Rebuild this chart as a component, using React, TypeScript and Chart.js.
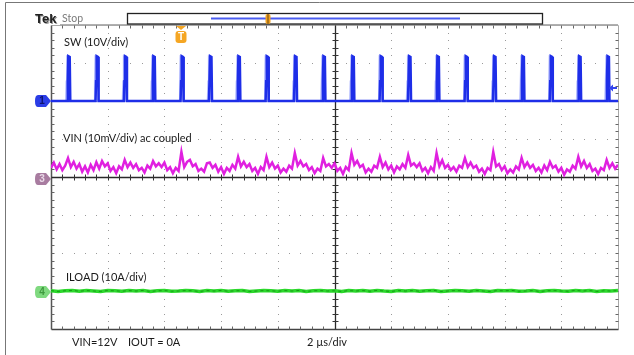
import React, { useEffect, useRef } from "react";
import { Chart, registerables } from "chart.js";
Chart.register(...registerables);

// ---------- data ----------
const timeRangeUs = [0, 20]; // 10 div x 2 µs/div
const usPerDiv = 2;
const swPulseStartUs = [
  0.58, 1.58, 2.58, 3.58, 4.58, 5.58, 6.58, 7.58, 8.58, 9.58,
  10.6, 11.6, 12.6, 13.6, 14.6, 15.6, 16.6, 17.6, 18.6, 19.6,
];
const swHighV = 11.6;
const swRange = [-60, 20]; // 10 V/div, ground at div 6
const vinRange = [-40, 40]; // 10 mV/div, ground at div 4
const iloadRange = [-10, 70]; // 10 A/div, ground at div 1
const vinStepUs = 0.1;
const vinMv = [
  2.4, 3.8, 2.0, 3.4, 1.8, 3.0,
  5.0, 2.6, 4.0, 2.2, 3.4, 1.4, 2.8, 1.2, 3.2, 1.8,
  3.9, 2.2, 4.2, 2.8, 3.6, 1.6, 2.6, 1.0, 2.8, 2.0,
  4.5, 2.6, 3.8, 2.4, 3.4, 1.8, 2.4, 1.2, 3.0, 2.2,
  4.2, 2.8, 3.6, 2.6, 3.8, 1.8, 2.6, 1.0, 2.4, 1.6,
  6.6, 2.6, 4.0, 4.5, 2.8, 3.4, 1.6, 2.2, 1.4, 3.6,
  3.8, 2.4, 3.2, 1.4, 2.6, 0.8, 2.4, 1.6, 3.2, 2.2,
  5.3, 2.8, 4.0, 2.6, 3.4, 1.6, 2.4, 0.8, 2.6, 1.8,
  5.3, 2.6, 3.8, 2.2, 3.0, 1.2, 2.2, 1.4, 3.0, 2.2,
  6.3, 3.0, 4.2, 2.8, 3.4, 1.8, 2.6, 1.0, 2.2, 1.6,
  5.0, 2.8, 3.4, 2.4, 3.6, 1.6, 2.4, 0.8, 2.6, 1.8,
  6.3, 3.2, 4.2, 2.6, 3.2, 1.2, 2.2, 1.4, 3.0, 2.4,
  5.3, 2.6, 3.8, 2.0, 3.0, 1.2, 2.8, 2.0, 3.4, 2.4,
  5.8, 3.0, 3.6, 2.6, 3.6, 1.6, 2.4, 1.0, 2.6, 1.6,
  6.3, 2.8, 4.4, 2.4, 3.2, 1.8, 2.6, 1.4, 3.0, 2.4,
  5.0, 2.6, 3.8, 2.4, 3.0, 1.4, 2.2, 0.8, 2.4, 1.8,
  6.6, 2.8, 3.4, 1.8, 2.8, 1.0, 2.0, 1.2, 2.8, 2.0,
  5.0, 2.6, 3.8, 2.4, 3.2, 1.6, 2.4, 1.2, 3.0, 1.8,
  4.0, 2.4, 3.0, 1.4, 2.4, 0.6, 2.0, 1.4, 3.0, 2.2,
  5.3, 2.8, 4.2, 2.4, 3.4, 1.6, 2.2, 0.8, 2.4, 1.8,
  4.5, 2.4, 3.6, 2.2, 3.2,
];
const iloadStepUs = 0.25;
const iloadA = [
  0.1, -0.1, 0.05, 0.15, -0.05, 0.1, 0.0, -0.1, 0.1, 0.05,
  -0.05, 0.1, 0.0, 0.15, -0.1, 0.05, 0.1, -0.05, 0.0, 0.1,
  0.05, -0.1, 0.1, 0.0, 0.15, -0.05, 0.05, 0.1, -0.1, 0.0,
  0.1, 0.05, -0.05, 0.1, 0.0, 0.15, -0.1, 0.05, 0.1, 0.0,
  0.05, -0.1, 0.1, 0.0, 0.1, -0.05, 0.15, 0.0, -0.1, 0.1,
  0.0, 0.1, -0.05, 0.05, 0.15, -0.1, 0.0, 0.1, 0.05, -0.05,
  0.1, 0.0, -0.1, 0.1, 0.05, 0.15, -0.05, 0.0, 0.1, -0.1,
  0.05, 0.1, 0.0, -0.05, 0.15, 0.0, 0.1, -0.1, 0.05, 0.0, 0.1,
];
const labels = {
  sw: "SW (10V/div)",
  vin: "VIN (10mV/div) ac coupled",
  iload: "ILOAD (10A/div)",
  cond1: "VIN=12V",
  cond2: "IOUT = 0A",
  timebase: "2 µs/div",
  brand: "Tek",
  state: "Stop",
};

// ---------- build datasets ----------
function swTrace(shift: number) {
  const pts: { x: number; y: number }[] = [{ x: timeRangeUs[0], y: 0 }];
  for (const s of swPulseStartUs) {
    const t = s + shift;
    pts.push(
      { x: t - 0.01, y: 0 },
      { x: t + 0.01, y: swHighV * 0.45 },
      { x: t + 0.03, y: swHighV + 0.2 },
      { x: t + 0.08, y: swHighV },
      { x: t + 0.1, y: 0 }
    );
  }
  pts.push({ x: timeRangeUs[1], y: 0 });
  return pts;
}
const vinPts = vinMv.map((v, i) => ({ x: i * vinStepUs, y: v }));
const iloadPts = iloadA.map((v, i) => ({ x: i * iloadStepUs, y: v }));

// ---------- plugins ----------
const scopeGrid = {
  id: "scopeGrid",
  beforeDatasetsDraw(chart: any) {
    const { ctx, chartArea: a, scales } = chart;
    const xs = scales.x;
    const yd = scales.yDiv;
    const xd = (d: number) => Math.round(xs.getPixelForValue(d * usPerDiv));
    const yv = (d: number) => Math.round(yd.getPixelForValue(d));
    ctx.save();
    ctx.fillStyle = "#9a9a9a";
    for (let k = 1; k < 10; k++) {
      if (k === 5) continue;
      const px = xd(k);
      for (let m = 1; m < 40; m++) ctx.fillRect(px, yv(m * 0.2), 1, 1);
    }
    for (let k = 1; k < 8; k++) {
      if (k === 4) continue;
      const py = yv(k);
      for (let m = 1; m < 50; m++) ctx.fillRect(xd(m * 0.2), py, 1, 1);
    }
    const line = (x1: number, y1: number, x2: number, y2: number, c: string, w: number) => {
      ctx.strokeStyle = c;
      ctx.lineWidth = w;
      ctx.beginPath();
      ctx.moveTo(x1, y1);
      ctx.lineTo(x2, y2);
      ctx.stroke();
    };
    const L = Math.round(a.left) + 0.5, R = Math.round(a.right) + 0.5;
    const T = Math.round(a.top) + 0.5, B = Math.round(a.bottom) + 0.5;
    line(L, T, R, T, "#a8a8a8", 1);
    line(R, T, R, B, "#a8a8a8", 1);
    line(L, T, L, B, "#555", 1.5);
    line(L, B, R, B, "#444", 1.5);
    ctx.fillStyle = "#666";
    for (let m = 1; m < 50; m++) {
      const px = xd(m * 0.2);
      ctx.fillRect(px, T, 1, 3);
      ctx.fillRect(px, B - 3, 1, 3);
    }
    for (let m = 1; m < 40; m++) {
      const py = yv(m * 0.2);
      ctx.fillRect(L, py, 3, 1);
      ctx.fillRect(R - 3, py, 3, 1);
    }
    const cx = xd(5) + 0.5, cy = yv(4) + 0.5;
    line(cx, T, cx, B, "#2a2a2a", 1.3);
    line(L, cy, R, cy, "#2a2a2a", 1.3);
    ctx.fillStyle = "#333";
    for (let m = 1; m < 50; m++) ctx.fillRect(xd(m * 0.2), cy - 3, 1, 6);
    for (let m = 1; m < 40; m++) ctx.fillRect(cx - 3, yv(m * 0.2), 6, 1);
    ctx.restore();
  },
};

const scopeOverlay = {
  id: "scopeOverlay",
  afterDraw(chart: any) {
    const { ctx, chartArea: a, scales } = chart;
    ctx.save();
    ctx.strokeStyle = "#777";
    ctx.lineWidth = 1;
    ctx.beginPath();
    ctx.moveTo(5.5, 355);
    ctx.lineTo(5.5, 2.5);
    ctx.lineTo(634, 2.5);
    ctx.stroke();

    ctx.textBaseline = "middle";
    ctx.font = "bold 13px 'Liberation Sans', Arial, sans-serif";
    ctx.fillStyle = "#999";
    ctx.fillText(labels.brand, 36, 20);
    ctx.fillStyle = "#222";
    ctx.fillText(labels.brand, 35, 19);
    ctx.font = "10.5px Lato, sans-serif";
    ctx.fillStyle = "#7a7a7a";
    ctx.fillText(labels.state, 62, 19);
    ctx.strokeStyle = "#b0b0b0";
    ctx.beginPath();
    ctx.moveTo(60, 24.5);
    ctx.lineTo(a.right, 24.5);
    ctx.stroke();
    ctx.fillStyle = "#fff";
    ctx.fillRect(127, 13, 416, 11);
    ctx.strokeStyle = "#222";
    ctx.lineWidth = 1.3;
    ctx.strokeRect(127.5, 13.5, 415, 10.5);
    ctx.strokeStyle = "#4a5cf0";
    ctx.lineWidth = 2;
    ctx.beginPath();
    ctx.moveTo(211, 18.5);
    ctx.lineTo(460, 18.5);
    ctx.stroke();
    ctx.fillStyle = "#f0a020";
    ctx.beginPath();
    ctx.roundRect(265.5, 14, 5, 10, 2);
    ctx.fill();
    ctx.fillStyle = "#6a4a10";
    ctx.fillRect(267.5, 14, 1, 10);

    const tx = 181;
    ctx.fillStyle = "#f5a623";
    ctx.beginPath();
    ctx.moveTo(tx - 5, a.top + 1);
    ctx.lineTo(tx + 5, a.top + 1);
    ctx.lineTo(tx, a.top + 5);
    ctx.closePath();
    ctx.fill();
    ctx.beginPath();
    ctx.roundRect(tx - 5.5, a.top + 6, 11, 12, 3);
    ctx.fill();
    ctx.fillStyle = "#fff";
    ctx.font = "bold 10px 'Liberation Sans', Arial, sans-serif";
    ctx.textAlign = "center";
    ctx.fillText("T", tx, a.top + 12.5);

    const badge = (y: number, fill: string, txt: string, tc: string) => {
      ctx.fillStyle = fill;
      ctx.beginPath();
      ctx.moveTo(38, y - 6);
      ctx.lineTo(46, y - 6);
      ctx.lineTo(51, y);
      ctx.lineTo(46, y + 6);
      ctx.lineTo(38, y + 6);
      ctx.quadraticCurveTo(35, y + 6, 35, y);
      ctx.quadraticCurveTo(35, y - 6, 38, y - 6);
      ctx.closePath();
      ctx.fill();
      ctx.fillStyle = tc;
      ctx.font = "bold 10px 'Liberation Sans', Arial, sans-serif";
      ctx.textAlign = "center";
      ctx.fillText(txt, 42, y + 0.5);
    };
    badge(Math.round(scales.ySW.getPixelForValue(0)), "#2b3de6", "1", "#0d1470");
    badge(Math.round(scales.yVIN.getPixelForValue(0)) + 2, "#a87ca0", "3", "#e8d8e6");
    badge(Math.round(scales.yIL.getPixelForValue(0)) + 1, "#7fd97f", "4", "#3f9a3f");

    const ay = Math.round(scales.ySW.getPixelForValue(3.5));
    ctx.fillStyle = "#3344ee";
    ctx.beginPath();
    ctx.moveTo(a.right - 9, ay);
    ctx.lineTo(a.right - 5, ay - 3.5);
    ctx.lineTo(a.right - 5, ay + 3.5);
    ctx.closePath();
    ctx.fill();
    ctx.fillRect(a.right - 6, ay - 1, 5, 2);

    ctx.textAlign = "left";
    ctx.fillStyle = "#1a1a1a";
    ctx.font = "11px Lato, sans-serif";
    ctx.fillText(labels.sw, 64, 42);
    ctx.fillText(labels.vin, 63, 138);
    ctx.fillText(labels.iload, 66, 277);
    ctx.fillText(labels.cond1, 72, 342);
    ctx.fillText(labels.cond2, 128, 342);
    ctx.fillText(labels.timebase, 307, 342);
    ctx.restore();
  },
};

export default function App() {
  const ref = useRef<HTMLCanvasElement | null>(null);
  useEffect(() => {
    if (!ref.current) return;
    const chart = new Chart(ref.current, {
      type: "line",
      data: {
        datasets: [
          {
            label: "SW",
            data: swTrace(0),
            yAxisID: "ySW",
            borderColor: "#1e2ee8",
            borderWidth: 2.5,
            pointRadius: 0,
            tension: 0,
          },
          {
            label: "SW persistence",
            data: swTrace(-0.05),
            yAxisID: "ySW",
            borderColor: "#b4bcff",
            borderWidth: 1.5,
            pointRadius: 0,
            tension: 0,
          },
          {
            label: "VIN",
            data: vinPts,
            yAxisID: "yVIN",
            borderColor: "#e020e0",
            borderWidth: 2.5,
            pointRadius: 0,
            tension: 0,
          },
          {
            label: "ILOAD core",
            data: iloadPts,
            yAxisID: "yIL",
            borderColor: "#139a13",
            borderWidth: 1,
            borderDash: [3, 3],
            pointRadius: 0,
            tension: 0,
          },
          {
            label: "ILOAD",
            data: iloadPts,
            yAxisID: "yIL",
            borderColor: "#2cd82c",
            borderWidth: 3.5,
            pointRadius: 0,
            tension: 0,
          },
        ],
      },
      options: {
        animation: false,
        responsive: false,
        devicePixelRatio: 1,
        parsing: false as any,
        normalized: true,
        layout: { padding: { left: 51, top: 25, right: 16, bottom: 26 } },
        plugins: { legend: { display: false }, tooltip: { enabled: false } },
        scales: {
          x: { type: "linear", min: timeRangeUs[0], max: timeRangeUs[1], display: false },
          ySW: { type: "linear", min: swRange[0], max: swRange[1], display: false },
          yVIN: { type: "linear", min: vinRange[0], max: vinRange[1], display: false },
          yIL: { type: "linear", min: iloadRange[0], max: iloadRange[1], display: false },
          yDiv: { type: "linear", min: 0, max: 8, display: false },
        },
      },
      plugins: [scopeGrid, scopeOverlay],
    } as any);
    return () => chart.destroy();
  }, []);
  return (
    <div style={{ position: "fixed", left: 0, top: 0, width: 634, height: 355, background: "#fff" }}>
      <canvas ref={ref} width={634} height={355} style={{ width: 634, height: 355, display: "block" }} />
    </div>
  );
}
